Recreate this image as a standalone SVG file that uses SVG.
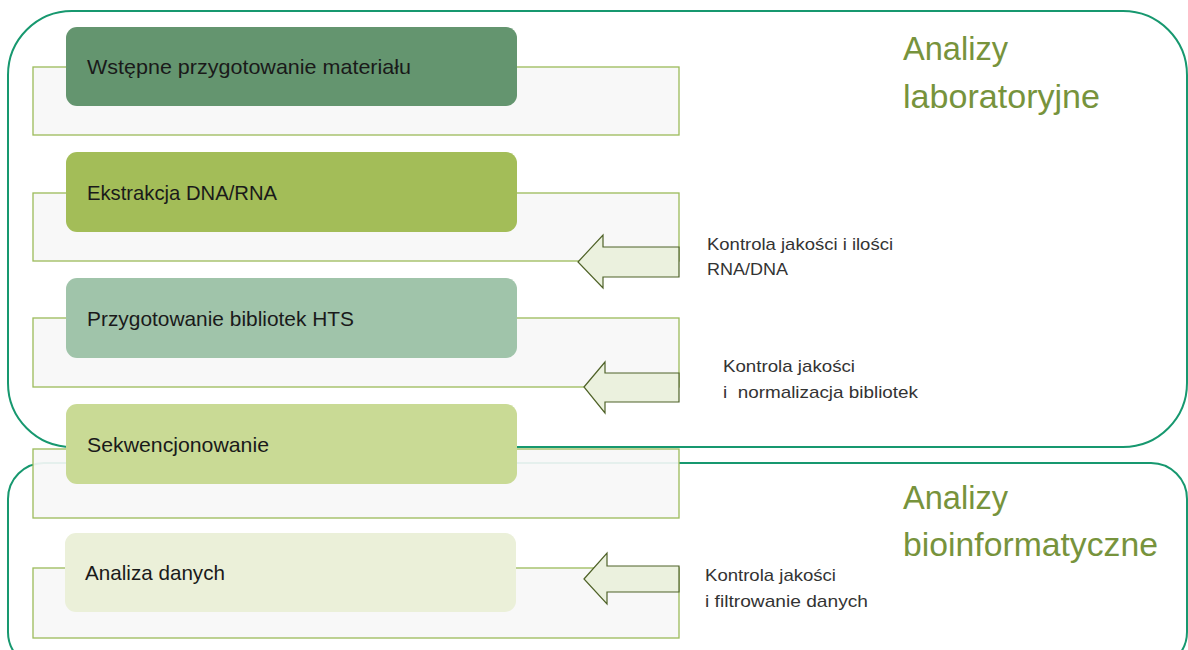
<svg xmlns="http://www.w3.org/2000/svg" width="1188" height="650" viewBox="0 0 1188 650">
<style>
.frame{fill:none;stroke:#17986F;stroke-width:2}
.row{fill:#F7F7F7;fill-opacity:0.92;stroke:#9BBB59;stroke-width:1.3}
.node text{font-family:"Liberation Sans",Arial,sans-serif;font-size:21px;fill:#1a1a1a}
.arrow{fill:#EBF1DE;stroke:#4F6228;stroke-width:1.2;stroke-linejoin:miter}
.lbl{font-family:"Liberation Sans",Arial,sans-serif;font-size:17px;fill:#333}
.title{font-family:"Liberation Sans",Arial,sans-serif;font-size:34px;fill:#77933C}
</style>
<rect width="1188" height="650" fill="#fff"/>
<g id="group-lab">
<rect class="frame" x="8" y="11" width="1179" height="436" rx="64" ry="64"/>
<text class="title" x="903" y="60" textLength="105" lengthAdjust="spacingAndGlyphs">Analizy</text>
<text class="title" x="903" y="108" textLength="197" lengthAdjust="spacingAndGlyphs">laboratoryjne</text>
</g>
<g id="group-bio">
<rect class="frame" x="8" y="463" width="1179" height="205" rx="36" ry="36"/>
<text class="title" x="903" y="509" textLength="105" lengthAdjust="spacingAndGlyphs">Analizy</text>
<text class="title" x="903" y="556" textLength="255" lengthAdjust="spacingAndGlyphs">bioinformatyczne</text>
</g>
<g id="rows">
<rect class="row" x="33" y="67" width="646" height="68"/>
<rect class="row" x="33" y="193" width="646" height="68"/>
<rect class="row" x="33" y="318" width="646" height="69"/>
<rect class="row" x="33" y="449" width="646" height="69"/>
<rect class="row" x="33" y="568" width="646" height="70"/>
</g>
<g id="node1" class="node">
<rect x="66" y="27" width="451" height="79" rx="11" fill="#64956F"/>
<text x="87" y="74" textLength="324" lengthAdjust="spacingAndGlyphs">Wstępne przygotowanie materiału</text>
</g>
<g id="node2" class="node">
<rect x="66" y="152" width="451" height="80" rx="11" fill="#A3BD58"/>
<text x="87" y="200" textLength="190" lengthAdjust="spacingAndGlyphs">Ekstrakcja DNA/RNA</text>
</g>
<g id="node3" class="node">
<rect x="66" y="278" width="451" height="80" rx="11" fill="#A0C4AA"/>
<text x="87" y="326" textLength="267" lengthAdjust="spacingAndGlyphs">Przygotowanie bibliotek HTS</text>
</g>
<g id="node4" class="node">
<rect x="66" y="404" width="451" height="80" rx="11" fill="#C9DA95"/>
<text x="87" y="452" textLength="182" lengthAdjust="spacingAndGlyphs">Sekwencjonowanie</text>
</g>
<g id="node5" class="node">
<rect x="65" y="533" width="451" height="79" rx="11" fill="#EBF0D9"/>
<text x="85" y="580" textLength="140" lengthAdjust="spacingAndGlyphs">Analiza danych</text>
</g>
<g id="connectors">
<polygon class="arrow" points="578,262 603,235 603,247 679,247 679,277 603,277 603,288"/>
<polygon class="arrow" points="584,387 605,362 605,373 679,373 679,402 605,402 605,413"/>
<polygon class="arrow" points="584,579 607,553 607,566 679,566 679,592 607,592 607,604"/>
</g>
<g id="labels">
<text class="lbl" x="707" y="250" textLength="186" lengthAdjust="spacingAndGlyphs">Kontrola jakości i ilości</text>
<text class="lbl" x="707" y="275" textLength="81" lengthAdjust="spacingAndGlyphs">RNA/DNA</text>
<text class="lbl" x="723" y="372" textLength="132" lengthAdjust="spacingAndGlyphs">Kontrola jakości</text>
<text class="lbl" x="723" y="398" textLength="195" lengthAdjust="spacingAndGlyphs" xml:space="preserve">i  normalizacja bibliotek</text>
<text class="lbl" x="705" y="581" textLength="131" lengthAdjust="spacingAndGlyphs">Kontrola jakości</text>
<text class="lbl" x="705" y="607" textLength="163" lengthAdjust="spacingAndGlyphs">i filtrowanie danych</text>
</g>
</svg>
